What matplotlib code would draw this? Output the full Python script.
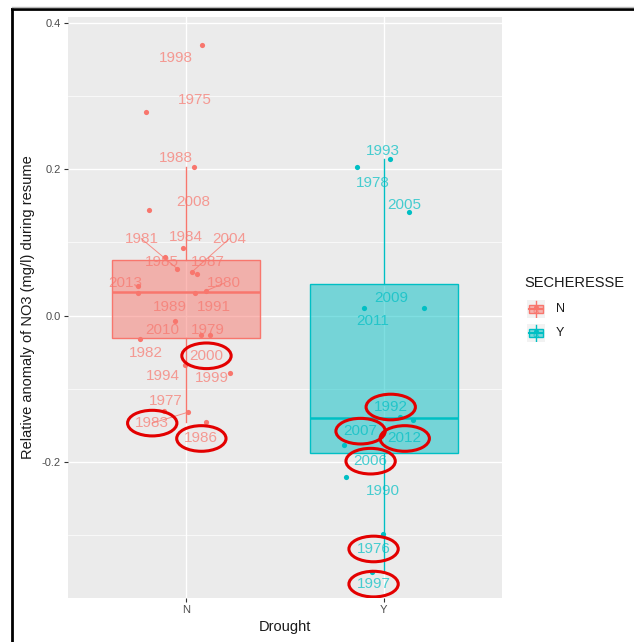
import numpy as np
import matplotlib
matplotlib.use("Agg")
import matplotlib.pyplot as plt
from matplotlib.patches import Ellipse, Rectangle
from matplotlib.lines import Line2D

plt.rcParams["font.family"] = ["Liberation Sans", "DejaVu Sans"]

# data
groups = ["N", "Y"]
colors = {"N": "#F8766D", "Y": "#00BFC4"}

n_years = [1998, 1975, 1988, 2008, 1984, 1985, 1981, 2004, 1987, 2013, 1980,
           1989, 1991, 2010, 1979, 2000, 1982, 1994, 1999, 1977, 1983, 1986]
n_values = [0.370, 0.278, 0.203, 0.144, 0.092, 0.080, 0.064, 0.060, 0.057, 0.040, 0.034,
            0.031, 0.031, -0.008, -0.027, -0.027, -0.032, -0.068, -0.079, -0.131, -0.132, -0.146]
n_jitter = [0.081, -0.203, 0.041, -0.188, -0.015, -0.107, -0.046, 0.030, 0.056, -0.244, 0.102,
            0.046, -0.244, -0.056, 0.076, 0.122, -0.234, -0.005, 0.223, -0.112, 0.010, 0.102]
# label positions (offset from group centre, value)
n_lab_dx = [-0.051, 0.041, -0.051, 0.036, -0.005, -0.122, -0.228, 0.218, 0.107, -0.310, 0.188,
            -0.086, 0.137, -0.122, 0.107, 0.102, -0.203, -0.117, 0.127, -0.102, -0.173, 0.076]
n_lab_y = [0.352, 0.295, 0.215, 0.155, 0.107, 0.073, 0.105, 0.105, 0.073, 0.044, 0.044,
           0.012, 0.012, -0.020, -0.020, -0.055, -0.051, -0.083, -0.086, -0.117, -0.147, -0.168]

y_years = [1993, 1978, 2005, 2009, 2011, 1992, 2012, 2007, 2006, 1990, 1976, 1997]
y_values = [0.214, 0.203, 0.142, 0.011, 0.011, -0.143, -0.139, -0.141, -0.177, -0.221, -0.298, -0.351]
y_jitter = [0.030, -0.137, 0.127, 0.203, -0.102, 0.147, 0.081, -0.045, -0.203, -0.193, -0.005, -0.061]
y_lab_dx = [-0.005, -0.056, 0.107, 0.041, -0.056, 0.036, 0.107, -0.117, -0.066, -0.005, -0.051, -0.051]
y_lab_y = [0.225, 0.181, 0.151, 0.024, -0.008, -0.125, -0.168, -0.158, -0.199, -0.240, -0.319, -0.367]

circled = [2000, 1983, 1986, 1992, 2007, 2012, 2006, 1976, 1997]
segment_years = [1981, 2004, 1983, 1980]

fig = plt.figure(figsize=(6.34, 6.42), dpi=100)
ax = fig.add_axes([68 / 634, 1 - 598 / 642, 434 / 634, 581 / 642])
ax.set_facecolor("#EBEBEB")
for s in ax.spines.values():
    s.set_visible(False)

all_data = {
    "N": (n_years, n_values, n_jitter, n_lab_dx, n_lab_y),
    "Y": (y_years, y_values, y_jitter, y_lab_dx, y_lab_y),
}

for i, g in enumerate(groups):
    pos = i + 1
    col = colors[g]
    years, vals, jit, ldx, ly = all_data[g]
    bp = ax.boxplot([vals], positions=[pos], widths=0.75, patch_artist=True,
                    showfliers=False, showcaps=False, whis=1.5)
    for b in bp["boxes"]:
        b.set_facecolor(matplotlib.colors.to_rgba(col, 0.5))
        b.set_edgecolor(col)
        b.set_linewidth(1.0)
    for w in bp["whiskers"]:
        w.set_color(col)
        w.set_linewidth(1.0)
    for m in bp["medians"]:
        m.set_color(col)
        m.set_linewidth(1.8)

    xs = [pos + j for j in jit]
    ax.scatter(xs, vals, s=14, color=col, zorder=3, linewidths=0)

    for yr, x, v, dx, lyv in zip(years, xs, vals, ldx, ly):
        lx = pos + dx
        if yr in segment_years:
            ax.plot([lx, x], [lyv, v], color=col, lw=0.7, alpha=0.8, zorder=3)
        ax.text(lx, lyv, str(yr), color=col, alpha=0.7, fontsize=11,
                ha="center", va="center", zorder=4)
        if yr in circled:
            ax.add_patch(Ellipse((lx, lyv), 0.25, 0.035, fill=False,
                                 edgecolor="#E30000", lw=2.2, zorder=5))

ax.set_xlim(0.4, 2.6)
ax.set_ylim(-0.386, 0.408)
ax.set_yticks([-0.2, 0.0, 0.2, 0.4])
ax.set_yticklabels(["-0.2", "0.0", "0.2", "0.4"])
ax.set_yticks([-0.3, -0.1, 0.1, 0.3], minor=True)
ax.set_xticks([1, 2])
ax.set_xticklabels(groups)
ax.grid(True, which="major", color="white", lw=1.0)
ax.grid(True, which="minor", axis="y", color="white", lw=0.5)
ax.set_axisbelow(True)
ax.tick_params(which="major", length=3, color="#333333", labelcolor="#4D4D4D",
               labelsize=8, pad=2)
ax.tick_params(which="minor", length=0)

ax.set_xlabel("Drought", fontsize=10.5, color="#1A1A1A", labelpad=4)
ax.set_ylabel("Relative anomaly of NO3 (mg/l) during resume", fontsize=10.5,
              color="#1A1A1A", labelpad=5)

# legend
fig.text(524 / 634, 1 - 283 / 642, "SECHERESSE", fontsize=10.5, color="#1A1A1A",
         ha="left", va="center")
for k, g in enumerate(groups):
    top = 300 + k * 24
    kax = fig.add_axes([527 / 634, 1 - (top + 18) / 642, 18 / 634, 18 / 642])
    kax.set_facecolor("#F2F2F2")
    kax.set_xlim(0, 1)
    kax.set_ylim(0, 1)
    kax.set_xticks([])
    kax.set_yticks([])
    for s in kax.spines.values():
        s.set_visible(False)
    col = colors[g]
    kax.plot([0.5, 0.5], [0.05, 0.95], color=col, lw=1)
    kax.add_patch(Rectangle((0.12, 0.27), 0.76, 0.46,
                  facecolor=matplotlib.colors.to_rgba(col, 0.5), edgecolor=col, lw=1))
    kax.plot([0.12, 0.88], [0.5, 0.5], color=col, lw=1.5)
    kax.scatter([0.5], [0.6], s=12, color=col, zorder=3, linewidths=0)
    kax.text(0.5, 0.45, "a", color=col, alpha=0.75, fontsize=8, ha="center", va="center")
    fig.text(556 / 634, 1 - (top + 9) / 642, g, fontsize=9, color="#1A1A1A",
             ha="left", va="center")

# outer frame (left and top lines)
fig.add_artist(Line2D([11.5 / 634, 11.5 / 634], [0, 1 - 9 / 642], color="black", lw=2))
fig.add_artist(Line2D([11.5 / 634, 1], [1 - 9 / 642, 1 - 9 / 642], color="black", lw=2))
fig.add_artist(Line2D([11.5 / 634, 1], [1 - 7 / 642, 1 - 7 / 642], color="#BBBBBB", lw=1))

fig.savefig("out.png", dpi=100)
